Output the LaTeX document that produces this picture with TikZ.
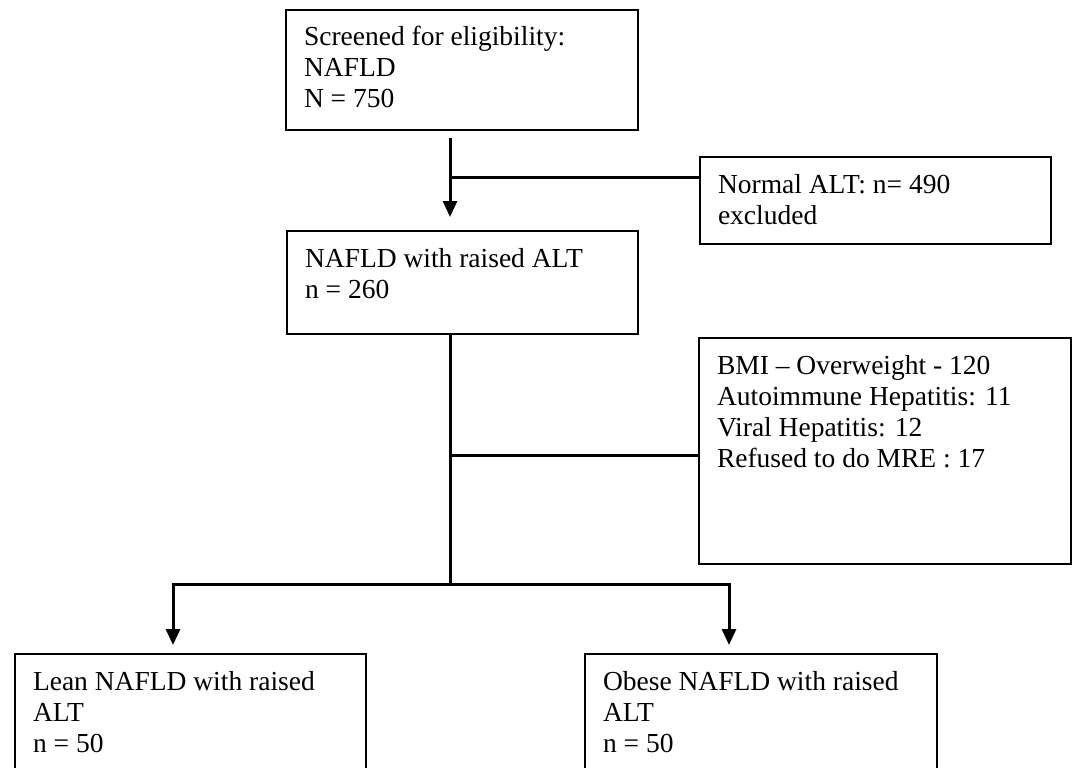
\documentclass[tikz,border=0pt]{standalone}
\usepackage{fontspec}
\setmainfont{Liberation Serif}
\usetikzlibrary{arrows.meta}
\newcommand{\flowtext}[3]{\parbox[t][#2][t]{#1}{\raggedright\rule{0pt}{36pt}#3}}

\begin{document}
\begin{tikzpicture}[x=1pt, y=-1pt,
    every node/.style={font=\fontsize{27.5pt}{31pt}\selectfont},
    flowbox/.style={draw, line width=2pt, anchor=north west, inner xsep=18pt, inner ysep=0pt},
    flowline/.style={line width=3pt},
    flowarrow/.style={line width=3pt, -{Triangle[length=16pt, width=14pt]}}]
    \path[use as bounding box] (0,0) rectangle (1077,768);
    \clip (0,0) rectangle (1077,768);
    \node[flowbox] (screen) at (285,9) {\flowtext{316pt}{120pt}{Screened for eligibility:\\NAFLD\\N = 750}};
    \node[flowbox] (normal) at (699,156) {\flowtext{315pt}{87pt}{Normal ALT: n= 490\\excluded}};
    \node[flowbox] (raised) at (286,230) {\flowtext{315pt}{103pt}{NAFLD with raised ALT\\n = 260}};
    \node[flowbox] (excl) at (698,337) {\flowtext{336pt}{226pt}{BMI \textendash{} Overweight - 120\\Autoimmune Hepatitis: 11\\Viral Hepatitis: 12\\Refused to do MRE : 17}};
    \node[flowbox] (lean) at (14,653) {\flowtext{315pt}{130pt}{Lean NAFLD with raised\\ALT\\n = 50}};
    \node[flowbox] (obese) at (584,653) {\flowtext{316pt}{130pt}{Obese NAFLD with raised\\ALT\\n = 50}};
    \coordinate (trunk) at (450,0);
    \coordinate (cut1) at (450,177);
    \coordinate (cut2) at (450,455);
    \coordinate (split) at (450,584);
    \coordinate (leanin) at (173,653);
    \coordinate (obesein) at (729,653);
    \draw[flowarrow, shorten <=7pt, shorten >=13pt] (screen.south -| trunk) -- (raised.north -| trunk);
    \draw[flowline] (cut1) -- (cut1 -| normal.west);
    \draw[flowline] (raised.south -| trunk) -- (split);
    \draw[flowline] (cut2) -- (cut2 -| excl.west);
    \draw[flowarrow, shorten >=8pt] (split) -| (leanin |- lean.north);
    \draw[flowarrow, shorten >=8pt] (split) -| (obesein |- obese.north);
\end{tikzpicture}
\end{document}
